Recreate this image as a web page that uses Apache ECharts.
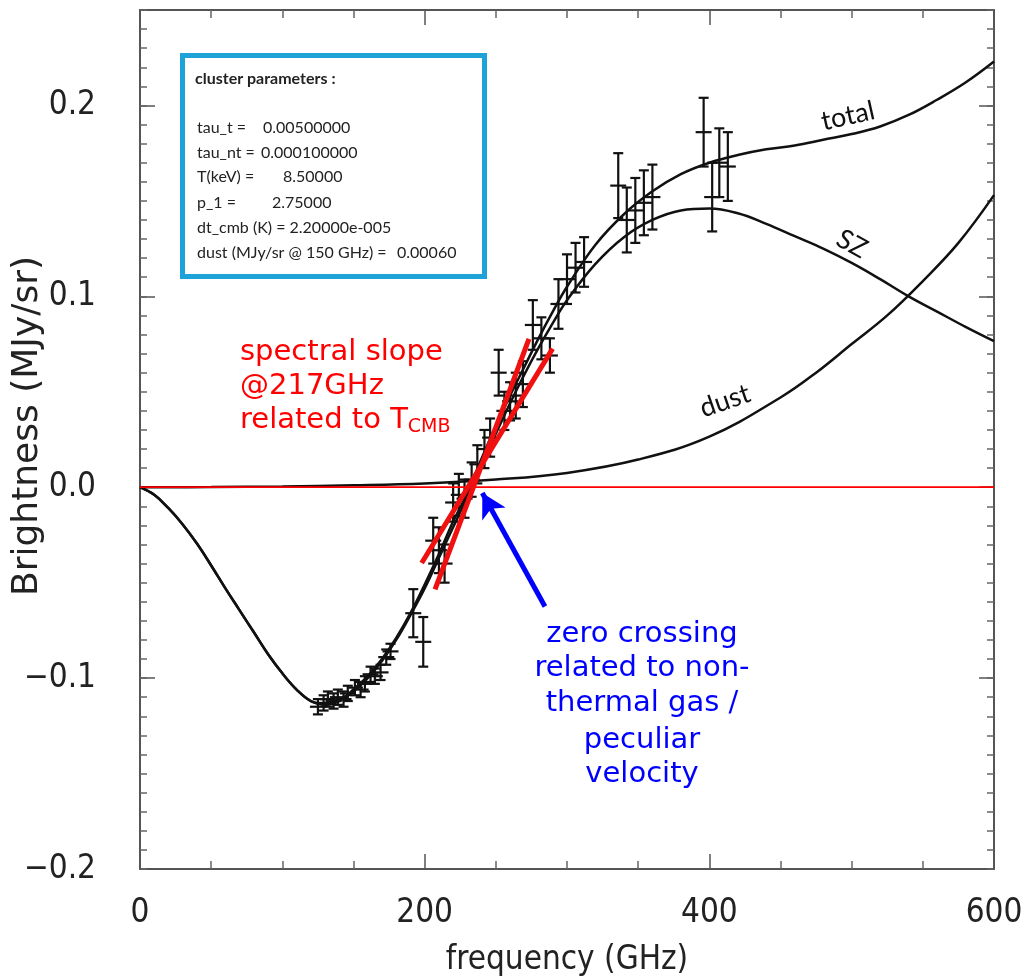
<!DOCTYPE html>
<html>
<head>
<meta charset="utf-8">
<script src="https://cdn.jsdelivr.net/npm/echarts@6/dist/echarts.min.js"></script>
<style>
  html, body { margin: 0; padding: 0; background: #fff; }
  #chart { width: 1023px; height: 978px; }
</style>
</head>
<body>
<div id="chart"></div>
<script>
// model curves (GHz, MJy/sr)
const curveFreq = [0, 10, 20, 30, 40, 50, 60, 70, 80, 90, 100, 110, 120, 130, 140, 150, 160, 170, 180, 190,
  200, 210, 220, 230, 240, 250, 260, 270, 280, 290, 300, 320, 340, 360, 380, 400, 420, 440, 460, 480,
  500, 520, 540, 560, 580, 600]
const szValues = [0, -0.004, -0.011, -0.0195, -0.0295, -0.041, -0.053, -0.0645, -0.076, -0.0875, -0.0975, -0.106, -0.112, -0.114, -0.112, -0.107, -0.100, -0.091, -0.080, -0.067,
  -0.053, -0.037, -0.021, -0.005, 0.012, 0.028, 0.044, 0.059, 0.073, 0.086, 0.098, 0.117, 0.131, 0.140, 0.145, 0.146, 0.1435, 0.138, 0.1315, 0.125,
  0.1175, 0.109, 0.100, 0.092, 0.084, 0.0765]
const totalValues = [0, -0.004, -0.011, -0.0195, -0.0295, -0.041, -0.053, -0.0645, -0.076, -0.0875, -0.0975, -0.106, -0.112, -0.1135, -0.1115, -0.106, -0.099, -0.090, -0.079, -0.066,
  -0.051, -0.035, -0.018, -0.003, 0.015, 0.032, 0.048, 0.063, 0.078, 0.092, 0.105, 0.127, 0.143, 0.155, 0.164, 0.170, 0.174, 0.177, 0.179, 0.182,
  0.185, 0.189, 0.195, 0.203, 0.212, 0.223]
const dustFreq = [0, 50, 100, 150, 200, 250, 300, 350, 400, 450, 475, 500, 525, 550, 575, 600]
const dustValues = [0, 0.0001, 0.0004, 0.001, 0.002, 0.004, 0.0075, 0.0145, 0.0265, 0.047, 0.060, 0.075, 0.090, 0.108, 0.128, 0.153]

// measured points with 1-sigma errors
const obsFreq = [125, 129, 132, 136, 139, 143, 146, 151, 155, 158, 162, 165, 169, 173, 176,
  192, 199, 206, 210, 214, 220, 224, 228, 233, 237, 242, 246, 252, 256, 260, 264, 269, 276, 282, 288, 294, 300, 306, 312,
  336, 342, 348, 354, 360, 396, 402, 407, 413]
const obsValue = [-0.115, -0.113, -0.111, -0.112, -0.110, -0.111, -0.108, -0.105, -0.106, -0.103, -0.098, -0.099, -0.097, -0.089, -0.086,
  -0.066, -0.081, -0.028, -0.033, -0.040, -0.008, -0.004, -0.006, 0.004, 0.012, 0.020, 0.026, 0.060, 0.040, 0.045, 0.048, 0.054, 0.085, 0.078, 0.069, 0.096, 0.109, 0.115, 0.118,
  0.158, 0.140, 0.145, 0.149, 0.152, 0.186, 0.152, 0.170, 0.168]
const obsError = [0.004, 0.004, 0.004, 0.004, 0.004, 0.004, 0.004, 0.004, 0.004, 0.004, 0.004, 0.004, 0.004, 0.004, 0.004,
  0.0126, 0.013, 0.012, 0.012, 0.010, 0.010, 0.011, 0.010, 0.009, 0.010, 0.010, 0.010, 0.012, 0.010, 0.010, 0.012, 0.012, 0.013, 0.011, 0.009, 0.013, 0.013, 0.013, 0.013,
  0.017, 0.017, 0.017, 0.017, 0.017, 0.018, 0.018, 0.018, 0.018]

// annotation geometry in data units
const slopeLineA = [[197.9, -0.0397], [289.9, 0.0726]]
const slopeLineB = [[207.3, -0.0535], [273.3, 0.0777]]
const arrowFrom = [284.5, -0.0625]
const arrowTo = [240.5, -0.003]

const params = [
  ['tau_t =', '0.00500000', 263],
  ['tau_nt =', '0.000100000', 261],
  ['T(keV) =', '8.50000', 283],
  ['p_1 =', '2.75000', 272],
  ['dt_cmb (K) = 2.20000e-005', '', 0],
  ['dust (MJy/sr @ 150 GHz) =', '0.00060', 397],
]
const paramRows = [128, 153, 177, 203, 228, 253]
const blueNote = ['zero crossing', 'related to non-', 'thermal gas /', 'peculiar', 'velocity']
const blueRows = [634, 668, 703, 740, 774]

const pairs = (xs, ys) => xs.map((x, i) => [x, ys[i]])
const axisFont = "'Liberation Sans Narrow', 'DejaVu Sans Condensed', sans-serif"
const annFont = "'DejaVu Sans', Verdana, sans-serif"
const boxFont = "Lato, 'Open Sans', sans-serif"

const chart = echarts.init(document.getElementById('chart'), null, {renderer: 'canvas'})

const errorBars = (params, api) => {
  const f = api.value(0)
  const v = api.value(1)
  const e = api.value(2)
  const c = api.coord([f, v])
  const lo = api.coord([f, v - e])
  const hi = api.coord([f, v + e])
  const cap = 5
  const arm = 8
  const style = {stroke: '#111', lineWidth: 2.2}
  return {
    type: 'group',
    children: [
      {type: 'line', shape: {x1: c[0], y1: lo[1], x2: c[0], y2: hi[1]}, style},
      {type: 'line', shape: {x1: c[0] - cap, y1: lo[1], x2: c[0] + cap, y2: lo[1]}, style},
      {type: 'line', shape: {x1: c[0] - cap, y1: hi[1], x2: c[0] + cap, y2: hi[1]}, style},
      {type: 'line', shape: {x1: c[0] - arm, y1: c[1], x2: c[0] + arm, y2: c[1]}, style},
    ],
  }
}

const xBase = {
  type: 'value', min: 0, max: 600, interval: 200,
  axisLine: {show: true, onZero: false, lineStyle: {color: '#555', width: 2}},
  axisTick: {show: true, inside: true, length: 15, lineStyle: {color: '#555', width: 1.5}},
  minorTick: {show: true, splitNumber: 4, length: 8, lineStyle: {color: '#666', width: 1.5}},
  splitLine: {show: false},
}
const yMajor = {
  type: 'value', min: -0.2, max: 0.25, interval: 0.1,
  axisLine: {show: true, onZero: false, lineStyle: {color: '#555', width: 2}},
  axisTick: {show: true, inside: true, length: 15, lineStyle: {color: '#555', width: 1.5}},
  splitLine: {show: false},
}
const yMinor = {
  type: 'value', min: -0.2, max: 0.25, interval: 0.01,
  axisLine: {show: false, onZero: false},
  axisTick: {show: true, inside: true, length: 7, lineStyle: {color: '#666', width: 1.5}},
  axisLabel: {show: false},
  splitLine: {show: false},
}

const option = {
  animation: false,
  backgroundColor: '#fff',
  grid: {left: 140, right: 29, top: 10, bottom: 109, containLabel: false, outerBoundsMode: 'none'},
  xAxis: [
    {
      ...xBase, position: 'bottom',
      axisLabel: {fontSize: 33, color: '#222', margin: 28, fontFamily: axisFont},
      name: 'frequency (GHz)', nameLocation: 'middle', nameGap: 75,
      nameTextStyle: {fontSize: 33, color: '#222', fontFamily: axisFont},
    },
    {...xBase, position: 'top', axisLabel: {show: false}},
  ],
  yAxis: [
    {
      ...yMajor, position: 'left',
      axisLabel: {
        fontSize: 33, color: '#222', margin: 44, fontFamily: axisFont, showMaxLabel: false,
        formatter: (v) => {
          if (v > 0.24) return ''
          const s = Math.abs(v).toFixed(1)
          return v < -1e-9 ? '\u2212' + s : s
        },
      },
    },
    {...yMinor, position: 'left'},
    {...yMajor, position: 'right', axisLabel: {show: false}},
    {...yMinor, position: 'right'},
  ],
  series: [
    {
      name: 'dust', type: 'line', smooth: 0.4, showSymbol: false, symbol: 'none',
      data: pairs(dustFreq, dustValues),
      lineStyle: {color: '#111', width: 2.5},
    },
    {
      name: 'SZ', type: 'line', smooth: 0.4, showSymbol: false, symbol: 'none',
      data: pairs(curveFreq, szValues),
      lineStyle: {color: '#111', width: 2.5},
    },
    {
      name: 'total', type: 'line', smooth: 0.4, showSymbol: false, symbol: 'none',
      data: pairs(curveFreq, totalValues),
      lineStyle: {color: '#111', width: 2.5},
    },
    {
      name: 'zero', type: 'line', showSymbol: false, symbol: 'none',
      data: [[0, 0], [600, 0]],
      lineStyle: {color: '#f00', width: 1.8},
    },
    {
      name: 'data', type: 'custom', renderItem: errorBars,
      data: obsFreq.map((f, i) => [f, obsValue[i], obsError[i]]),
      encode: {x: 0, y: 1},
      z: 3,
    },
    {
      name: 'slopeA', type: 'line', showSymbol: false, symbol: 'none', data: slopeLineA,
      lineStyle: {color: '#f01010', width: 5}, z: 4,
    },
    {
      name: 'slopeB', type: 'line', showSymbol: false, symbol: 'none', data: slopeLineB,
      lineStyle: {color: '#f01010', width: 5}, z: 4,
    },
    {
      name: 'arrow', type: 'line', data: [], z: 4,
      markLine: {
        silent: true, animation: false,
        symbol: ['none', 'arrow'], symbolSize: [20, 24],
        label: {show: false},
        lineStyle: {color: '#0000ff', width: 5, type: 'solid'},
        data: [[{coord: arrowFrom}, {coord: arrowTo}]],
      },
    },
  ],
  graphic: [
    // y axis title
    {
      type: 'text', x: 28, y: 426, rotation: Math.PI / 2,
      style: {text: 'Brightness (MJy/sr)', font: '36px ' + annFont, fill: '#222', align: 'center', verticalAlign: 'middle'},
    },
    // parameter box
    {
      type: 'rect', left: 180, top: 53, z: 10,
      shape: {width: 302, height: 221},
      style: {fill: '#fff', stroke: '#1ea3d9', lineWidth: 5},
    },
    {
      type: 'text', x: 195, y: 79, z: 11,
      style: {text: 'cluster parameters :', font: 'bold 16px ' + boxFont, fill: '#222', verticalAlign: 'middle'},
    },
    ...params.flatMap(([label, value, vx], i) => {
      const y = paramRows[i]
      const items = [{
        type: 'text', x: 197, y, z: 11,
        style: {text: label, font: '16px ' + boxFont, fill: '#222', verticalAlign: 'middle'},
      }]
      if (value) {
        items.push({
          type: 'text', x: vx, y, z: 11,
          style: {text: value, font: '16px ' + boxFont, fill: '#222', verticalAlign: 'middle'},
        })
      }
      return items
    }),
    // curve labels
    {
      type: 'text', x: 848, y: 116, rotation: 0.22, z: 5,
      style: {text: 'total', font: '27px ' + boxFont, fill: '#111', align: 'center', verticalAlign: 'middle'},
    },
    {
      type: 'text', x: 852, y: 244, rotation: -0.5, z: 5,
      style: {text: 'SZ', font: '27px ' + boxFont, fill: '#111', align: 'center', verticalAlign: 'middle'},
    },
    {
      type: 'text', x: 725, y: 401, rotation: 0.33, z: 5,
      style: {text: 'dust', font: '27px ' + boxFont, fill: '#111', align: 'center', verticalAlign: 'middle'},
    },
    // red annotation
    {
      type: 'text', x: 240, y: 352, z: 5,
      style: {text: 'spectral slope', font: '29px ' + annFont, fill: '#f00', verticalAlign: 'middle'},
    },
    {
      type: 'text', x: 240, y: 386, z: 5,
      style: {text: '@217GHz', font: '29px ' + annFont, fill: '#f00', verticalAlign: 'middle'},
    },
    {
      type: 'text', x: 240, y: 420, z: 5,
      style: {
        text: '{a|related to T}{b|CMB}', verticalAlign: 'middle',
        rich: {
          a: {font: '29px ' + annFont, fill: '#f00', color: '#f00'},
          b: {font: '19px ' + annFont, fill: '#f00', color: '#f00', padding: [14, 0, 0, 0]},
        },
      },
    },
    // blue annotation
    ...blueNote.map((t, i) => ({
      type: 'text', x: 642, y: blueRows[i], z: 5,
      style: {text: t, font: '29px ' + annFont, fill: '#0000ff', align: 'center', verticalAlign: 'middle'},
    })),
  ],
}

chart.setOption(option)
</script>
</body>
</html>
